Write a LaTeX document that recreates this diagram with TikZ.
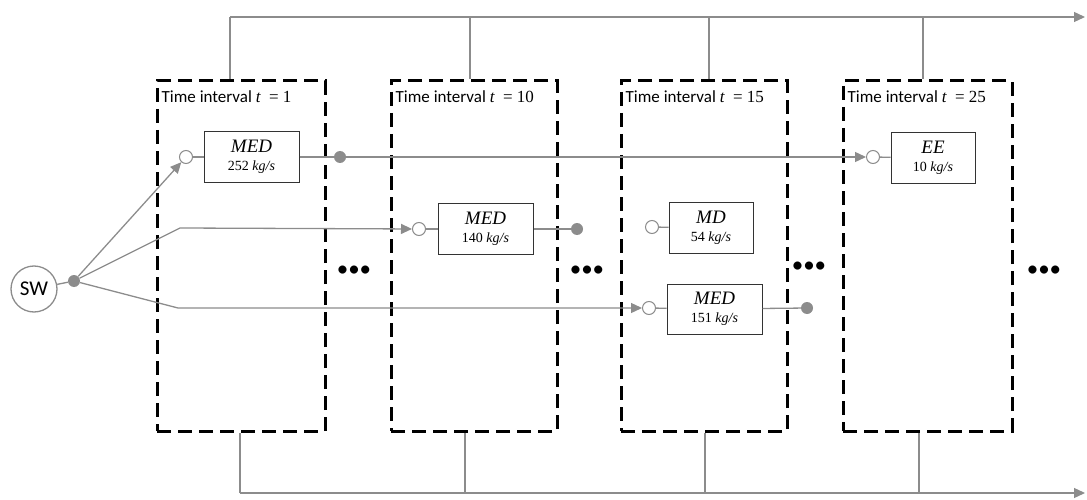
\documentclass[tikz,border=0pt]{standalone}
\usepackage{fontspec}
\setmainfont{Carlito}
\newfontfamily\unitfont{Liberation Serif}
\usetikzlibrary{positioning, arrows.meta}

\definecolor{linegray}{HTML}{8C8C8C}

\newcommand{\unitlabel}[2]{{\fontsize{19}{20}\selectfont\unitfont\itshape #1}\\[-1pt]{\fontsize{14}{15}\selectfont\unitfont #2 \itshape kg/s}}

\begin{document}
\begin{tikzpicture}[
  x=1pt, y=-1pt,
  font=\fontsize{17}{19}\selectfont,
  interval/.style={draw=black, line width=3pt, dash pattern=on 14pt off 7pt, minimum width=#1, minimum height=350pt, inner sep=0pt},
  unitbox/.style={draw=black!80, line width=1pt, fill=white, minimum width=#1, minimum height=51pt, align=center, inner sep=0pt},
  port/.style={circle, draw=linegray, fill=white, line width=1pt, minimum size=13pt, inner sep=0pt},
  dot/.style={circle, fill=linegray, minimum size=12pt, inner sep=0pt},
  flow/.style={draw=linegray, line width=1.3pt},
  arr/.style={flow, -{Triangle[length=11pt, width=10pt]}},
  more/.style={font=\fontsize{23}{23}\selectfont, inner sep=0pt},
  tlabel/.style={anchor=west, inner sep=0pt}
]
  \useasboundingbox (0,0) rectangle (1087,500);

  % Zeitintervalle
  \node[interval=168pt] (t1) at (241,256) {};
  \node[interval=166pt] (t2) at (474,256) {};
  \node[interval=166pt] (t3) at (704,256) {};
  \node[interval=169pt] (t4) at (927.5,256) {};

  \node[tlabel] (l1) at ([shift={(6,17)}]t1.north west) {Time interval \unitfont\itshape t \upshape\ = 1};
  \node[tlabel] (l2) at ([shift={(6,17)}]t2.north west) {Time interval \unitfont\itshape t \upshape\ = 10};
  \node[tlabel] (l3) at ([shift={(6,17)}]t3.north west) {Time interval \unitfont\itshape t \upshape\ = 15};
  \node[tlabel] (l4) at ([shift={(6,17)}]t4.north west) {Time interval \unitfont\itshape t \upshape\ = 25};

  % Quelle
  \node[circle, draw=linegray, line width=1.3pt, minimum size=46pt, inner sep=0pt, font=\fontsize{21}{21}\selectfont] (sw) at (34,289) {SW};
  \node[dot] (split) at (74,281) {};
  \coordinate (b2) at (180,228);
  \coordinate (b3) at (178,308);

  % Anlagen
  \node[unitbox=95pt] (u1) at (251.5,157) {\unitlabel{MED}{252}};
  \node[unitbox=95pt] (u2) at (485.5,229) {\unitlabel{MED}{140}};
  \node[unitbox=84pt] (u3) at (711,228) {\unitlabel{MD}{54}};
  \node[unitbox=84pt] (u4) at (933,158) {\unitlabel{EE}{10}};
  \node[unitbox=95pt, minimum height=50pt] (u5) at (714.5,309) {\unitlabel{MED}{151}};

  \node[port] (p1) at (186,157) {};
  \node[port] (p2) at (419,229) {};
  \node[port] (p3) at (652,227) {};
  \node[port] (p4) at (873,157) {};
  \node[port] (p5) at (649,308) {};

  \node[dot] (d1) at (340,157) {};
  \node[dot] (d2) at (577,229) {};
  \node[dot] (d5) at (807,308) {};

  % Punkte
  \node[more] (m1) at (354,271) {•••};
  \node[more] (m2) at (587,271) {•••};
  \node[more] (m3) at (809,267) {•••};
  \node[more] (m4) at (1044,271) {•••};

  % Sammelleitungen
  \coordinate (top1) at (230,17);
  \coordinate (top2) at (470,17);
  \coordinate (top3) at (709,17);
  \coordinate (top4) at (923,17);
  \coordinate (topend) at (1085,17);
  \coordinate (bot1) at (240,493);
  \coordinate (bot2) at (465,493);
  \coordinate (bot3) at (705,493);
  \coordinate (bot4) at (919,493);
  \coordinate (botend) at (1085,493);

  \draw[flow] (sw) -- (split);
  \draw[arr] (split) -- (p1);
  \draw[arr] (split) -- (b2) -- (p2);
  \draw[arr] (split) -- (b3) -- (p5);
  \draw[flow] (p1) -- (u1);
  \draw[flow] (u1) -- (d1);
  \draw[arr] (d1) -- (p4);
  \draw[flow] (p4) -- (u4);
  \draw[flow] (p2) -- (u2);
  \draw[flow] (u2) -- (d2);
  \draw[flow] (p3) -- (u3);
  \draw[flow] (p5) -- (u5);
  \draw[flow] (u5) -- (d5);

  \draw[arr] (top1) -- (topend);
  \draw[flow] (top1) -- (top1 |- t1.north);
  \draw[flow] (top2) -- (top2 |- t2.north);
  \draw[flow] (top3) -- (top3 |- t3.north);
  \draw[flow] (top4) -- (top4 |- t4.north);

  \draw[arr] (bot1) -- (botend);
  \draw[flow] (bot1) -- (bot1 |- t1.south);
  \draw[flow] (bot2) -- (bot2 |- t2.south);
  \draw[flow] (bot3) -- (bot3 |- t3.south);
  \draw[flow] (bot4) -- (bot4 |- t4.south);
\end{tikzpicture}
\end{document}
